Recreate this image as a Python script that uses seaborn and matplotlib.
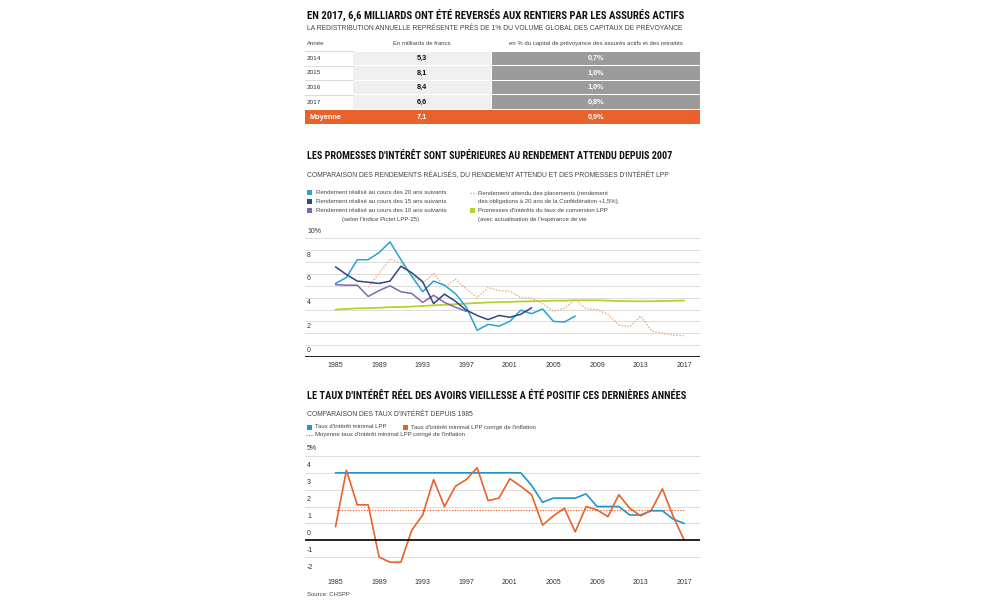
import matplotlib
matplotlib.use("Agg")
import matplotlib.pyplot as plt
from matplotlib import font_manager
from matplotlib.patches import Rectangle
import seaborn as sns

# ---- table data ----
table_years = ["2014", "2015", "2016", "2017"]
table_bn = ["5,3", "8,1", "8,4", "6,6"]
table_pct = ["0,7%", "1,0%", "1,0%", "0,8%"]
mean_bn = "7,1"
mean_pct = "0,9%"

# ---- chart 2: returns ----
years_20 = list(range(1985, 2008))
ret_20 = [6.2, 6.7, 8.2, 8.2, 8.8, 9.7, 8.2, 6.8, 5.5, 6.4, 6.05, 5.35, 4.2,
          2.25, 2.75, 2.6, 3.0, 3.95, 3.65, 4.05, 3.0, 2.95, 3.45]
years_15 = list(range(1985, 2004))
ret_15 = [7.6, 6.95, 6.4, 6.3, 6.2, 6.4, 7.65, 7.1, 6.35, 4.5, 5.3, 4.7, 3.95,
          3.5, 3.15, 3.5, 3.35, 3.6, 4.15]
years_10 = list(range(1985, 1998))
ret_10 = [6.1, 6.05, 6.05, 5.1, 5.6, 6.0, 5.5, 5.35, 4.6, 5.2, 4.6, 4.2, 3.85]
years_exp = list(range(1988, 2018))
ret_exp = [5.9, 7.05, 8.25, 7.9, 6.9, 6.2, 7.05, 5.9, 6.55, 5.75, 5.0, 5.85,
           5.6, 5.55, 5.0, 4.95, 4.5, 3.85, 4.1, 4.85, 4.05, 4.0, 3.6, 2.7,
           2.55, 3.45, 2.2, 2.0, 1.85, 1.8]
years_prom = list(range(1985, 2018))
ret_prom = [4.0, 4.05, 4.1, 4.12, 4.15, 4.2, 4.22, 4.25, 4.3, 4.35, 4.4, 4.45,
            4.5, 4.55, 4.6, 4.62, 4.65, 4.68, 4.7, 4.72, 4.75, 4.75, 4.78,
            4.78, 4.78, 4.75, 4.72, 4.7, 4.7, 4.7, 4.72, 4.74, 4.76]

# ---- chart 3: interest rates ----
years_rate = list(range(1985, 2018))
min_rate = [4, 4, 4, 4, 4, 4, 4, 4, 4, 4, 4, 4, 4, 4, 4, 4, 4, 4, 3.25, 2.25,
            2.5, 2.5, 2.5, 2.75, 2, 2, 2, 1.5, 1.5, 1.75, 1.75, 1.25, 1.0]
real_rate = [0.8, 4.15, 2.1, 2.1, -1.0, -1.3, -1.3, 0.6, 1.5, 3.6, 2.0, 3.2,
             3.6, 4.3, 2.35, 2.5, 3.65, 3.2, 2.7, 0.9, 1.45, 1.9, 0.5, 2.0,
             1.8, 1.4, 2.7, 1.9, 1.45, 1.8, 3.05, 1.4, 0.0]
avg_years = [1985, 2017]
avg_real = [1.8, 1.8]

xticks = [1985, 1989, 1993, 1997, 2001, 2005, 2009, 2013, 2017]

sns.set_theme(style="white")
plt.rcParams["font.family"] = ["Liberation Sans", "DejaVu Sans"]
GREY = "#444444"
ORANGE = "#e8622a"

# pick a narrow family for the headlines if one is installed
installed = {f.name for f in font_manager.fontManager.ttflist}
TITLE_FONT = ["DejaVu Sans"]
TITLE_STRETCH = "normal"
for cand in ["Roboto Condensed", "Liberation Sans Narrow", "Open Sans Condensed",
             "Noto Sans Condensed", "DejaVu Sans Condensed"]:
    if cand in installed:
        TITLE_FONT = [cand, "DejaVu Sans"]
        break
else:
    for f in font_manager.fontManager.ttflist:
        if f.name in ("Roboto", "Noto Sans", "Open Sans", "DejaVu Sans") and \
                f.stretch in ("condensed", "semi-condensed", "extra-condensed"):
            TITLE_FONT = [f.name, "DejaVu Sans"]
            TITLE_STRETCH = f.stretch
            break

fig = plt.figure(figsize=(10, 6), dpi=100)
bg = fig.add_axes([0, 0, 1, 1])
bg.set_xlim(0, 1000)
bg.set_ylim(600, 0)
bg.axis("off")
renderer = fig.canvas.get_renderer()


def fit(t, width, max_size):
    # shrink a text until it fits the width taken in the reference
    w = t.get_window_extent(renderer).width
    t.set_fontsize(min(max_size, t.get_fontsize() * width / w))


def title(y, s, width):
    t = bg.text(307, y, s, fontsize=12, fontweight="bold", family=TITLE_FONT,
                fontstretch=TITLE_STRETCH, color="#111111", va="center", ha="left")
    fit(t, width, 12)


def sub(y, s, width=None, size=4.9):
    t = bg.text(307, y, s, fontsize=size, color=GREY, va="center", ha="left")
    if width:
        fit(t, width, size)


def axes_px(left, top, right, bottom):
    return fig.add_axes([left / 1000, 1 - bottom / 600,
                         (right - left) / 1000, (bottom - top) / 600])


# ---------------- section 1: table ----------------
title(15, "EN 2017, 6,6 MILLIARDS ONT ÉTÉ REVERSÉS AUX RENTIERS PAR LES ASSURÉS ACTIFS", 378)
sub(29, "LA REDISTRIBUTION ANNUELLE REPRÉSENTE PRÈS DE 1% DU VOLUME GLOBAL DES CAPITAUX DE PRÉVOYANCE", 376, 5.2)
bg.text(307, 43.5, "Année", fontsize=4.3, color=GREY, va="center")
bg.text(422, 43.5, "En milliards de francs", fontsize=4.3, color=GREY, va="center", ha="center")
bg.text(596, 43.5, "en % du capital de prévoyance des assurés actifs et des retraités",
        fontsize=4.3, color=GREY, va="center", ha="center")

row_top = 51
row_h = 14.6
for i, (yr, bn, pc) in enumerate(zip(table_years, table_bn, table_pct)):
    y0 = row_top + i * row_h
    bg.add_patch(Rectangle((353, y0 + 0.5), 138, row_h - 1, color="#efefef", lw=0))
    bg.add_patch(Rectangle((491.5, y0 + 0.5), 208.5, row_h - 1, color="#9b9b9b", lw=0))
    bg.plot([305, 353], [y0, y0], color="#d5d5d5", lw=0.6)
    yc = y0 + row_h / 2
    bg.text(307, yc, yr, fontsize=4.6, color="#333333", va="center")
    bg.text(422, yc, bn, fontsize=5.3, fontweight="bold", color="#111111", va="center", ha="center")
    bg.text(596, yc, pc, fontsize=5.3, fontweight="bold", color="white", va="center", ha="center")
y0 = row_top + 4 * row_h
bg.add_patch(Rectangle((305, y0 + 0.5), 395, row_h, color=ORANGE, lw=0))
yc = y0 + 0.5 + row_h / 2
bg.text(310, yc, "Moyenne", fontsize=5.3, fontweight="bold", color="white", va="center")
bg.text(422, yc, mean_bn, fontsize=5.3, fontweight="bold", color="white", va="center", ha="center")
bg.text(596, yc, mean_pct, fontsize=5.3, fontweight="bold", color="white", va="center", ha="center")

# ---------------- section 2: returns ----------------
C20, C15, C10 = "#23a3d6", "#2e4683", "#8367ad"
CEXP, CPROM = "#f2a47a", "#b9cf2c"
title(156, "LES PROMESSES D'INTÉRÊT SONT SUPÉRIEURES AU RENDEMENT ATTENDU DEPUIS 2007", 366)
sub(175, "COMPARAISON DES RENDEMENTS RÉALISÉS, DU RENDEMENT ATTENDU ET DES PROMESSES D'INTÉRÊT LPP", 357)

leg_l = [(C20, "Rendement réalisé au cours des 20 ans suivants"),
         (C15, "Rendement réalisé au cours des 15 ans suivants"),
         (C10, "Rendement réalisé au cours des 10 ans suivants")]
for i, (c, s) in enumerate(leg_l):
    y = 193 + i * 8.7
    bg.add_patch(Rectangle((307, y - 2.6), 5, 5, color=c, lw=0))
    bg.text(316, y, s, fontsize=4.3, color=GREY, va="center")
bg.text(342, 219, "(selon l'indice Pictet LPP-25)", fontsize=4.3, color=GREY, va="center")
bg.plot([470, 476], [193, 193], color=CEXP, lw=1, ls=(0, (1, 1)))
bg.text(478, 193, "Rendement attendu des placements (rendement", fontsize=4.3, color=GREY, va="center")
bg.text(478, 202, "des obligations à 20 ans de la Confédération +1,5%),", fontsize=4.3, color=GREY, va="center")
bg.add_patch(Rectangle((470, 208.4), 5, 5, color=CPROM, lw=0))
bg.text(478, 211, "Promesses d'intérêts du taux de conversion LPP", fontsize=4.3, color=GREY, va="center")
bg.text(478, 219, "(avec actualisation de l'espérance de vie", fontsize=4.3, color=GREY, va="center")

ax2 = axes_px(305, 231, 700, 357)
sns.lineplot(x=years_prom, y=ret_prom, ax=ax2, color=CPROM, lw=1.3)
sns.lineplot(x=years_exp, y=ret_exp, ax=ax2, color=CEXP, lw=1.0, ls=(0, (1, 1.2)))
sns.lineplot(x=years_10, y=ret_10, ax=ax2, color=C10, lw=1.1)
sns.lineplot(x=years_20, y=ret_20, ax=ax2, color=C20, lw=1.1)
sns.lineplot(x=years_15, y=ret_15, ax=ax2, color=C15, lw=1.1)
ax2.set_xlim(1982.2, 2018.45)
ax2.set_ylim(0, 10.62)
for v in range(1, 11):
    ax2.axhline(v, color="#dcdcdc", lw=0.7, zorder=0)
ax2.axhline(0, color="black", lw=1.2, zorder=3)
for v, lab in zip([0, 2, 4, 6, 8, 10], ["0", "2", "4", "6", "8", "10%"]):
    ax2.annotate(lab, xy=(0, v), xycoords=("axes fraction", "data"), xytext=(1.5, 2.5),
                 textcoords="offset points", fontsize=5, color="#333333", va="bottom")

# ---------------- section 3: real interest ----------------
CBLUE = "#1f95cf"
title(396, "LE TAUX D'INTÉRÊT RÉEL DES AVOIRS VIEILLESSE A ÉTÉ POSITIF CES DERNIÈRES ANNÉES", 380)
sub(414, "COMPARAISON DES TAUX D'INTÉRÊT DEPUIS 1985")
bg.add_patch(Rectangle((307, 424.5), 5, 5, color=CBLUE, lw=0))
bg.text(315, 427, "Taux d'intérêt minimal LPP", fontsize=4.3, color=GREY, va="center")
bg.add_patch(Rectangle((403, 424.5), 5, 5, color=ORANGE, lw=0))
bg.text(411, 427, "Taux d'intérêt minimal LPP corrigé de l'inflation", fontsize=4.3, color=GREY, va="center")
bg.plot([306, 313], [434.5, 434.5], color=ORANGE, lw=0.8, ls=(0, (1, 1.2)))
bg.text(315, 434.5, "Moyenne taux d'intérêt minimal LPP corrigé de l'inflation",
        fontsize=4.3, color=GREY, va="center")

ax3 = axes_px(305, 447, 700, 574)
sns.lineplot(x=avg_years, y=avg_real, ax=ax3, color=ORANGE, lw=0.9, ls=(0, (1, 1.2)))
sns.lineplot(x=years_rate, y=min_rate, ax=ax3, color=CBLUE, lw=1.2)
sns.lineplot(x=years_rate, y=real_rate, ax=ax3, color=ORANGE, lw=1.2)
ax3.set_xlim(1982.2, 2018.45)
ax3.set_ylim(-2, 5.53)
for v in [-2, -1, 1, 2, 3, 4, 5]:
    ax3.axhline(v, color="#dcdcdc", lw=0.7, zorder=0)
ax3.axhline(0, color="black", lw=1.2, zorder=3)
for v, lab in zip([-2, -1, 0, 1, 2, 3, 4, 5], ["-2", "-1", "0", "1", "2", "3", "4", "5%"]):
    ax3.annotate(lab, xy=(0, v), xycoords=("axes fraction", "data"), xytext=(1.5, 2.5),
                 textcoords="offset points", fontsize=5, color="#333333", va="bottom")

for ax in (ax2, ax3):
    ax.set_xticks(xticks)
    ax.set_xticklabels([str(x) for x in xticks], fontsize=5, color="#333333")
    ax.tick_params(axis="x", length=0, pad=3.5)
    ax.set_yticks([])
    ax.set_xlabel("")
    ax.set_ylabel("")
    ax.set_facecolor("none")
    for s in ax.spines.values():
        s.set_visible(False)

bg.text(307, 594, "Source: CHSPP", fontsize=4.3, color=GREY, va="center")

fig.savefig("out.png", dpi=100, facecolor="white")
